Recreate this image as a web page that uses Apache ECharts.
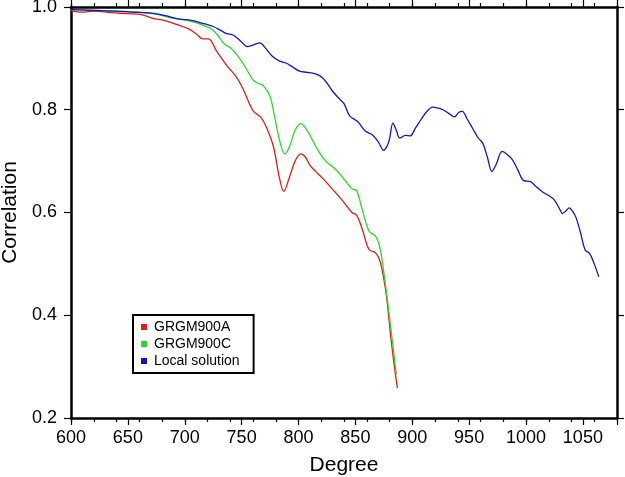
<!DOCTYPE html>
<html>
<head>
<meta charset="utf-8">
<script src="https://cdn.jsdelivr.net/npm/echarts@6/dist/echarts.min.js"></script>
<style>html,body{margin:0;padding:0;background:#fff}#c{width:625px;height:477px}</style>
</head>
<body>
<div id="c"></div>
<script>
var seriesNames = ['GRGM900A', 'GRGM900C', 'Local solution'];
var xTicks = [600, 650, 700, 750, 800, 850, 900, 950, 1000, 1050];
var yTicks = [0.2, 0.4, 0.6, 0.8, 1.0];

var degA = [600,610,620,635,650,662,672,682,693,703,710,716,721,728,737,745,751,760,767,772,778,783,787,792,797,802,806,810,815,822,830,838,847,851,856,862,868,872,877,881,884,887];
var corA = [0.993,0.990,0.992,0.989,0.987,0.985,0.978,0.974,0.966,0.958,0.948,0.938,0.938,0.914,0.886,0.865,0.842,0.798,0.785,0.765,0.728,0.670,0.641,0.668,0.700,0.714,0.708,0.692,0.680,0.665,0.645,0.625,0.600,0.595,0.568,0.528,0.521,0.503,0.443,0.360,0.305,0.258];

var degC = [600,620,640,660,675,688,700,712,719,723,729,734,742,751,760,764,769,775,779,784,788,792,797,802,807,812,818,824,832,839,847,851,856,862,868,872,877,881,886];
var corC = [0.995,0.994,0.992,0.990,0.986,0.979,0.975,0.968,0.962,0.958,0.945,0.930,0.917,0.891,0.858,0.852,0.847,0.826,0.786,0.735,0.714,0.728,0.760,0.773,0.762,0.742,0.718,0.700,0.685,0.668,0.646,0.643,0.606,0.564,0.553,0.527,0.450,0.378,0.285];

var degL = [600,612,624,640,653,671,683,694,706,713,718,725,732,737,742,749,755,760,766,771,777,783,789,795,801,807,813,819,824,830,836,840,845,852,859,865,870,875,878,880,883,886,889,894,898,903,908,913,918,923,927,932,937,941,944,948,953,958,962,966,970,974,979,984,988,993,998,1004,1009,1014,1020,1025,1030,1032,1035,1038,1041,1044,1048,1052,1056,1060,1064];
var corL = [0.995,0.994,0.993,0.992,0.990,0.988,0.983,0.977,0.974,0.970,0.967,0.962,0.954,0.948,0.946,0.934,0.923,0.926,0.930,0.920,0.904,0.895,0.891,0.883,0.875,0.873,0.871,0.866,0.855,0.836,0.821,0.812,0.788,0.777,0.758,0.751,0.738,0.721,0.730,0.743,0.774,0.760,0.745,0.750,0.749,0.765,0.782,0.797,0.805,0.803,0.800,0.793,0.786,0.795,0.797,0.783,0.764,0.745,0.735,0.708,0.680,0.695,0.719,0.712,0.703,0.682,0.662,0.660,0.650,0.641,0.633,0.624,0.605,0.598,0.603,0.609,0.602,0.590,0.560,0.527,0.520,0.500,0.475];

function pairs(xs, ys) { return xs.map(function (x, i) { return [x, ys[i]]; }); }

var FONT = 'Liberation Sans';
var colors = ['#e81818', '#22dd22', '#1414c8'];

function xAx(pos, major, showLine, showLabel) {
  return {
    type: 'value', position: pos, min: 600, max: 1080,
    interval: major ? 50 : 20,
    axisLine: { show: showLine, onZero: false, lineStyle: { color: '#000', width: 2.5 } },
    axisTick: { show: true, inside: false, length: major ? 7 : 4, lineStyle: { color: '#000', width: 1.2 } },
    axisLabel: { show: showLabel, margin: 11, color: '#000', fontFamily: FONT, fontSize: 18,
      formatter: function (v) { return xTicks.indexOf(v) >= 0 ? String(v) : ''; } },
    splitLine: { show: false },
    name: showLabel ? 'Degree' : '', nameLocation: 'middle', nameGap: 37,
    nameTextStyle: { color: '#000', fontFamily: FONT, fontSize: 21 }
  };
}
function yAx(pos, showLabel) {
  return {
    type: 'value', position: pos, min: 0.2, max: 1.0, interval: 0.2,
    axisLine: { show: true, onZero: false, lineStyle: { color: '#000', width: 2.5 } },
    axisTick: { show: true, inside: false, length: 7, lineStyle: { color: '#000', width: 1.2 } },
    axisLabel: { show: showLabel, margin: 14, color: '#000', fontFamily: FONT, fontSize: 18,
      formatter: function (v) { return v.toFixed(1); } },
    splitLine: { show: false },
    name: showLabel ? 'Correlation' : '', nameLocation: 'middle', nameGap: 46,
    nameTextStyle: { color: '#000', fontFamily: FONT, fontSize: 21 }
  };
}

var chart = echarts.init(document.getElementById('c'), null, { renderer: 'canvas' });
chart.setOption({
  animation: false,
  backgroundColor: '#fff',
  grid: { left: 71, right: 8, top: 7, bottom: 59, containLabel: false, outerBoundsMode: 'none' },
  xAxis: [xAx('bottom', true, true, true), xAx('bottom', false, false, false), xAx('top', true, true, false), xAx('top', false, false, false)],
  yAxis: [yAx('left', true), yAx('right', false)],
  legend: {
    orient: 'vertical', left: 133, top: 315,
    data: seriesNames, icon: 'rect', itemWidth: 6, itemHeight: 6, itemGap: 3,
    padding: [5, 14, 5, 8], borderColor: '#000', borderWidth: 2, backgroundColor: '#fff',
    textStyle: { color: '#000', fontFamily: FONT, fontSize: 14, lineHeight: 14, padding: [0, 0, 0, 2] }
  },
  series: [
    { name: seriesNames[0], type: 'line', data: pairs(degA, corA), smooth: 0.35, showSymbol: false, color: colors[0], lineStyle: { width: 1.3 } },
    { name: seriesNames[1], type: 'line', data: pairs(degC, corC), smooth: 0.35, showSymbol: false, color: colors[1], lineStyle: { width: 1.3 } },
    { name: seriesNames[2], type: 'line', data: pairs(degL, corL), smooth: 0.35, showSymbol: false, color: colors[2], lineStyle: { width: 1.3 } }
  ]
});
</script>
</body>
</html>
